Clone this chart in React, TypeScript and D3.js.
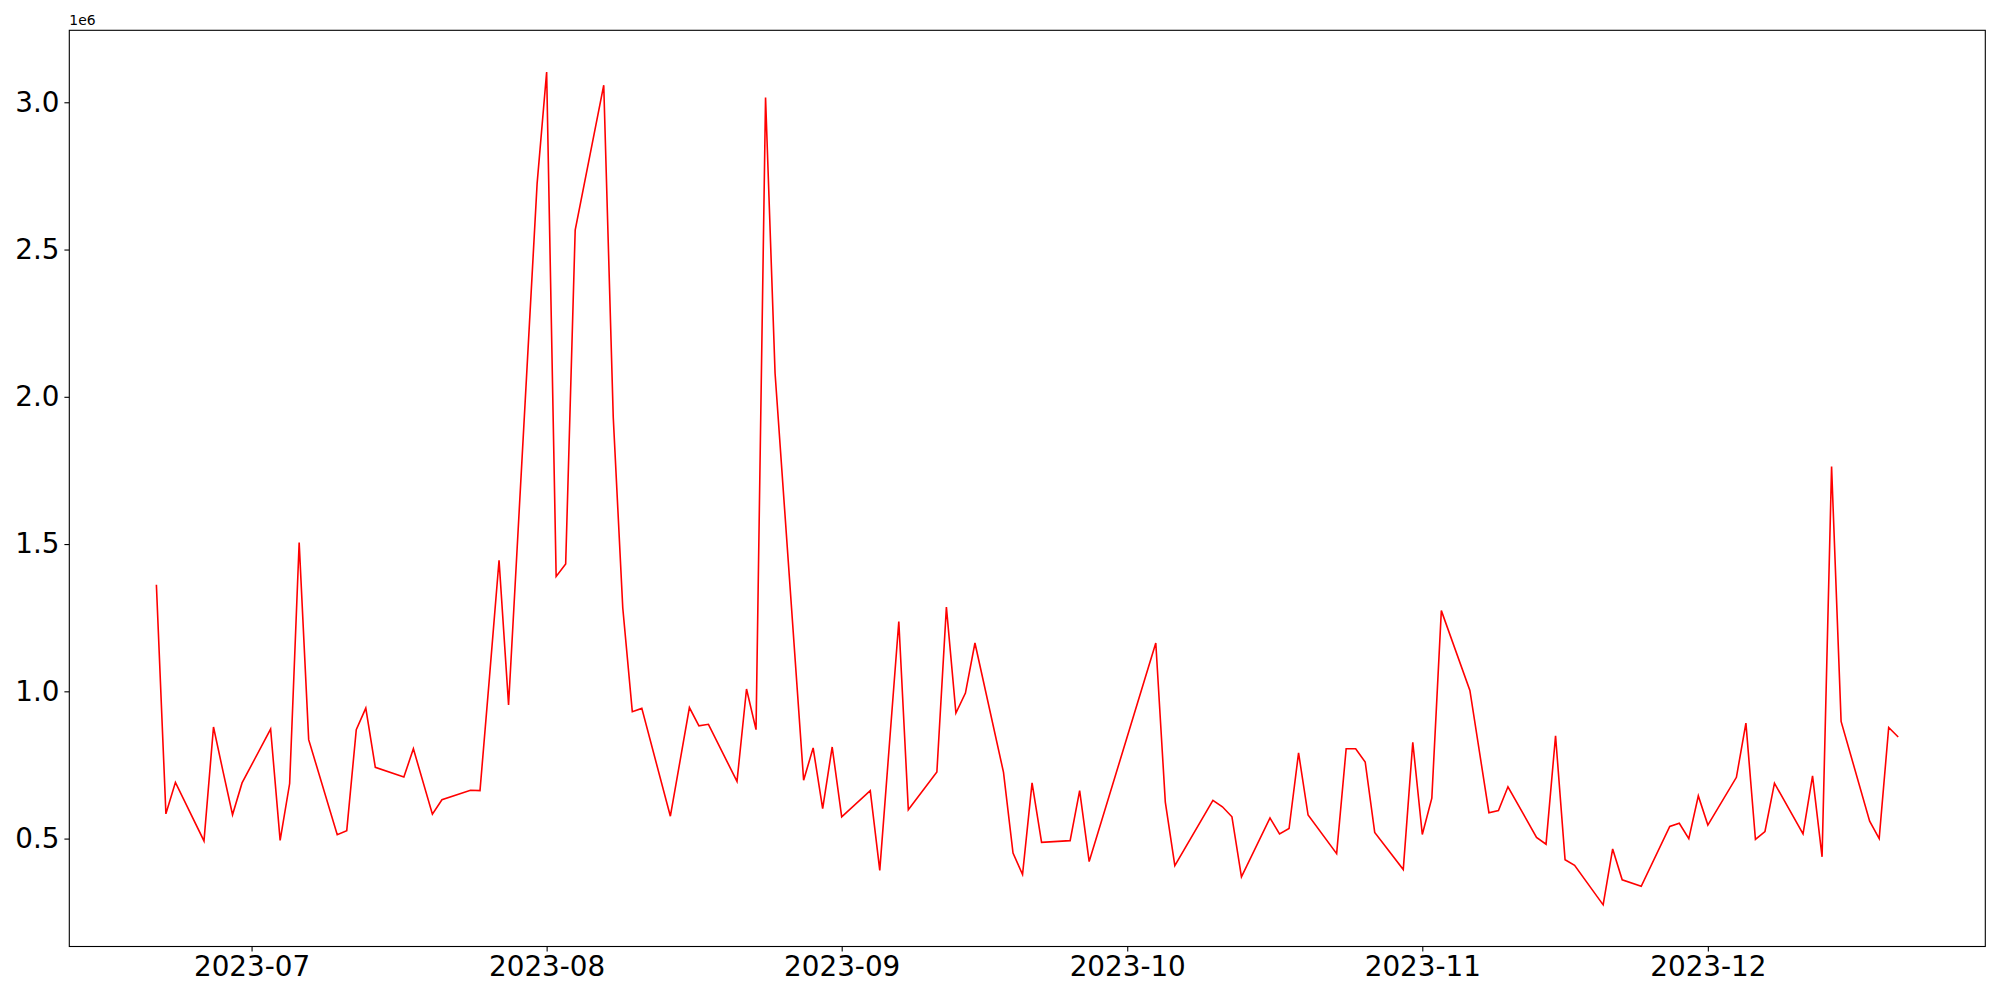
import React, { useEffect, useRef } from 'react'
import * as d3 from 'd3'

// trading dates and daily values
const dates: string[] = [
  '2023-06-21', '2023-06-22', '2023-06-23', '2023-06-26', '2023-06-27', '2023-06-28', '2023-06-29', '2023-06-30',
  '2023-07-03', '2023-07-04', '2023-07-05', '2023-07-06', '2023-07-07', '2023-07-10', '2023-07-11', '2023-07-12',
  '2023-07-13', '2023-07-14', '2023-07-17', '2023-07-18', '2023-07-20', '2023-07-21', '2023-07-24', '2023-07-25',
  '2023-07-26', '2023-07-27', '2023-07-28', '2023-07-31',
  '2023-08-01', '2023-08-02', '2023-08-03', '2023-08-04', '2023-08-07', '2023-08-08', '2023-08-09', '2023-08-10',
  '2023-08-11', '2023-08-14', '2023-08-16', '2023-08-17', '2023-08-18', '2023-08-21', '2023-08-22', '2023-08-23',
  '2023-08-24', '2023-08-25', '2023-08-28', '2023-08-29', '2023-08-30', '2023-08-31',
  '2023-09-01', '2023-09-04', '2023-09-05', '2023-09-07', '2023-09-08', '2023-09-11', '2023-09-12', '2023-09-13',
  '2023-09-14', '2023-09-15', '2023-09-18', '2023-09-19', '2023-09-20', '2023-09-21', '2023-09-22', '2023-09-25',
  '2023-09-26', '2023-09-27',
  '2023-10-04', '2023-10-05', '2023-10-06', '2023-10-10', '2023-10-11', '2023-10-12', '2023-10-13', '2023-10-16',
  '2023-10-17', '2023-10-18', '2023-10-19', '2023-10-20', '2023-10-23', '2023-10-24', '2023-10-25', '2023-10-26',
  '2023-10-27', '2023-10-30', '2023-10-31',
  '2023-11-01', '2023-11-02', '2023-11-03', '2023-11-06', '2023-11-08', '2023-11-09', '2023-11-10', '2023-11-13',
  '2023-11-14', '2023-11-15', '2023-11-16', '2023-11-17', '2023-11-20', '2023-11-21', '2023-11-22', '2023-11-24',
  '2023-11-27', '2023-11-28', '2023-11-29', '2023-11-30',
  '2023-12-01', '2023-12-04', '2023-12-05', '2023-12-06', '2023-12-07', '2023-12-08', '2023-12-11', '2023-12-12',
  '2023-12-13', '2023-12-14', '2023-12-15', '2023-12-18', '2023-12-19', '2023-12-20', '2023-12-21'
]

const values: number[] = [
  1362000, 584000, 691000, 492000, 879000, 728000, 581000, 689000,
  872000, 494000, 687000, 1505000, 836000, 513000, 527000, 870000,
  943000, 742000, 709000, 805000, 583000, 632000, 664000, 663000,
  1050000, 1445000, 954000, 2724000,
  3103000, 1390000, 1432000, 2566000, 3058000, 1930000, 1283000, 931000,
  942000, 576000, 945000, 883000, 888000, 694000, 1008000, 870000,
  3016000, 2080000, 698000, 808000, 602000, 811000,
  574000, 663000, 392000, 1237000, 598000, 726000, 1286000, 926000,
  994000, 1164000, 725000, 451000, 378000, 689000, 487000, 493000,
  663000, 422000,
  1164000, 624000, 408000, 630000, 608000, 574000, 370000, 570000,
  516000, 534000, 791000, 580000, 449000, 805000, 805000, 760000,
  521000, 395000, 827000,
  514000, 637000, 1274000, 1003000, 588000, 595000, 676000, 504000,
  481000, 849000, 428000, 409000, 275000, 465000, 360000, 338000,
  541000, 552000, 500000, 645000,
  546000, 708000, 892000, 497000, 524000, 688000, 516000, 713000,
  438000, 1763000, 898000, 559000, 500000, 877000, 845000
]

const yTicks: number[] = [500000, 1000000, 1500000, 2000000, 2500000, 3000000]

export default function App() {
  const svgRef = useRef<SVGSVGElement>(null)

  useEffect(() => {
    if (!svgRef.current) return
    const width = 2000
    const height = 1000
    const margin = { top: 30.3, right: 14.7, bottom: 53.5, left: 69.3 }
    const font = "'DejaVu Sans', sans-serif"

    const parse = d3.timeParse('%Y-%m-%d')
    const data = dates.map((d, i) => ({ date: parse(d)!, value: values[i] }))

    // matplotlib-like 5% padding
    const [x0, x1] = d3.extent(data, d => d.date) as [Date, Date]
    const xPad = (x1.getTime() - x0.getTime()) * 0.05
    const [y0, y1] = d3.extent(data, d => d.value) as [number, number]
    const yPad = (y1 - y0) * 0.05

    const x = d3.scaleTime()
      .domain([new Date(x0.getTime() - xPad), new Date(x1.getTime() + xPad)])
      .range([margin.left, width - margin.right])
    const y = d3.scaleLinear()
      .domain([y0 - yPad, y1 + yPad])
      .range([height - margin.bottom, margin.top])

    const svg = d3.select(svgRef.current)
    svg.selectAll('*').remove()
    svg.attr('width', width).attr('height', height)
    svg.append('rect').attr('width', width).attr('height', height).attr('fill', '#fff')

    const line = d3.line<{ date: Date, value: number }>()
      .x(d => x(d.date))
      .y(d => y(d.value))

    svg.append('path')
      .datum(data)
      .attr('d', line)
      .attr('fill', 'none')
      .attr('stroke', '#ff0000')
      .attr('stroke-width', 1.6)
      .attr('stroke-linejoin', 'miter')

    const xAxis = d3.axisBottom(x)
      .ticks(d3.timeMonth.every(1))
      .tickFormat(d => d3.timeFormat('%Y-%m')(d as Date))
      .tickSize(4.9)
      .tickPadding(4.4)
    const gx = svg.append('g')
      .attr('transform', `translate(0,${height - margin.bottom})`)
      .call(xAxis)
    gx.select('.domain').remove()
    gx.selectAll('text')
      .attr('font-family', font)
      .attr('font-size', 27.8)
      .attr('fill', '#000')
    gx.selectAll('line').attr('stroke', '#000').attr('stroke-width', 1.1)

    const yAxis = d3.axisLeft(y)
      .tickValues(yTicks)
      .tickFormat(d => ((d as number) / 1e6).toFixed(1))
      .tickSize(4.9)
      .tickPadding(4.9)
    const gy = svg.append('g')
      .attr('transform', `translate(${margin.left},0)`)
      .call(yAxis)
    gy.select('.domain').remove()
    gy.selectAll('text')
      .attr('font-family', font)
      .attr('font-size', 27.8)
      .attr('fill', '#000')
    gy.selectAll('line').attr('stroke', '#000').attr('stroke-width', 1.1)

    // frame
    svg.append('rect')
      .attr('x', margin.left)
      .attr('y', margin.top)
      .attr('width', width - margin.left - margin.right)
      .attr('height', height - margin.top - margin.bottom)
      .attr('fill', 'none')
      .attr('stroke', '#000')
      .attr('stroke-width', 1.1)

    // offset text
    svg.append('text')
      .attr('x', margin.left)
      .attr('y', margin.top - 5)
      .attr('font-family', font)
      .attr('font-size', 13.9)
      .attr('fill', '#000')
      .text('1e6')
  }, [])

  return (
    <div style={{ position: 'absolute', left: 0, top: 0 }}>
      <svg ref={svgRef} style={{ display: 'block' }}></svg>
    </div>
  )
}
